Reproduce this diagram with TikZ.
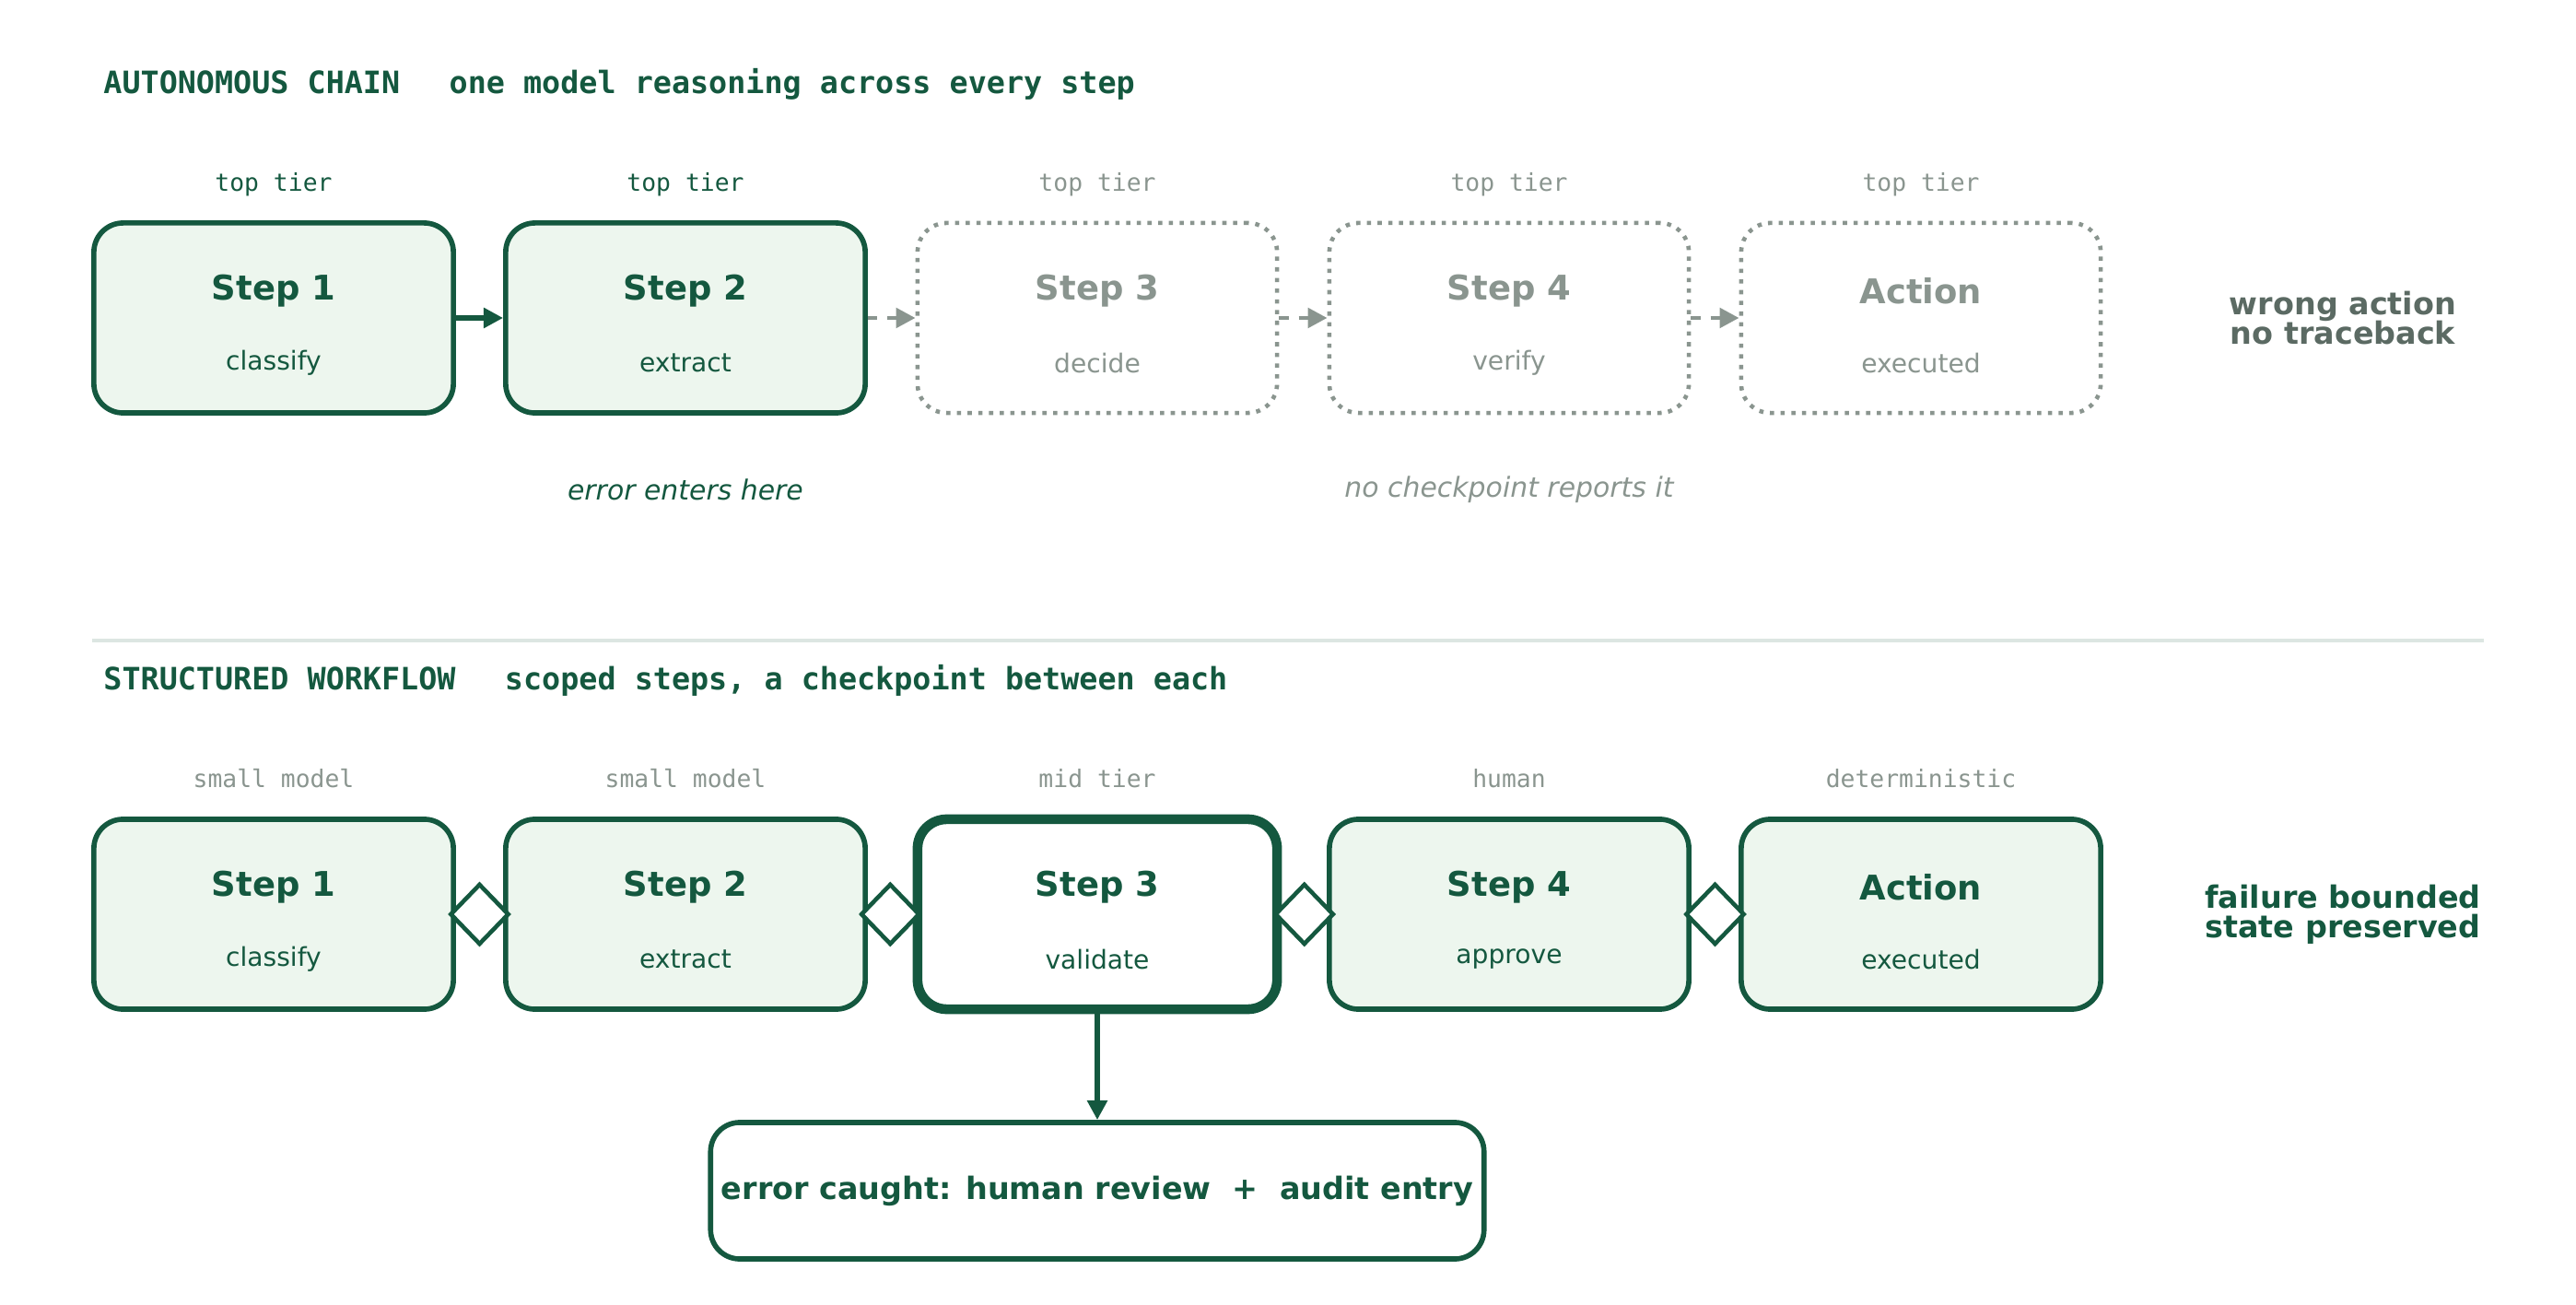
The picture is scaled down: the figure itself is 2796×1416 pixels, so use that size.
\documentclass[tikz,border=0pt]{standalone}
\usepackage{fontspec}
\setmainfont{DejaVu Sans}
\setmonofont{DejaVu Sans Mono}
\usetikzlibrary{positioning,arrows.meta,shapes.geometric}
\definecolor{deep}{HTML}{14583F}
\definecolor{pale}{HTML}{EDF6EE}
\definecolor{mute}{HTML}{8A958F}
\definecolor{slate}{HTML}{5B6A63}
\definecolor{rule}{HTML}{DCE6E2}
\tikzset{
    stepbox/.style={draw=deep, fill=pale, line width=1.6pt, rounded corners=9pt,
        minimum width=3.9cm, minimum height=2.06cm},
    ghostbox/.style={draw=mute, fill=white, line width=1.3pt, dotted, rounded corners=9pt,
        minimum width=3.9cm, minimum height=2.06cm},
    title/.style={font=\ttfamily\bfseries\fontsize{9.5}{11}\selectfont, text=deep, anchor=west},
    tier/.style={font=\ttfamily\fontsize{7.5}{9}\selectfont},
    head/.style={font=\bfseries\fontsize{10.5}{12}\selectfont},
    sub/.style={font=\fontsize{8}{10}\selectfont},
    note/.style={font=\itshape\fontsize{8.5}{10}\selectfont},
    gate/.style={diamond, draw=deep, fill=white, line width=1.3pt, inner sep=0pt,
        minimum width=0.64cm, minimum height=0.66cm},
    link/.style={-{Triangle[length=6pt,width=6pt]}, line width=1.6pt, draw=deep},
    ghostlink/.style={-{Triangle[length=6pt,width=6pt]}, line width=1.4pt, draw=mute, dashed}
}
\begin{document}
\begin{tikzpicture}[x=0.01cm,y=-0.01cm]
		\useasboundingbox (0,0) rectangle (2796,1416);

		% autonomous chain
		\node[title] (t1) at (100,91) {AUTONOMOUS CHAIN\hspace{1.6em}one model reasoning across every step};
		\foreach \i/\h/\s/\st in {1/Step 1/classify/stepbox,2/Step 2/extract/stepbox,3/Step 3/decide/ghostbox,4/Step 4/verify/ghostbox,5/Action/executed/ghostbox}{
			\ifnum\i<3 \def\tc{deep}\else\def\tc{mute}\fi
			\node[\st] (a\i) at ({297+447*(\i-1)},345) {};
			\node[head, text=\tc] (ah\i) at ({297+447*(\i-1)},316) {\h};
			\node[sub, text=\tc] (as\i) at ({297+447*(\i-1)},394) {\s};
			\node[tier, text=\tc] (at\i) at ({297+447*(\i-1)},200) {top tier};
		}
		\draw[link] (a1) -- (a2);
		\draw[ghostlink] (a2) -- (a3);
		\draw[ghostlink] (a3) -- (a4);
		\draw[ghostlink] (a4) -- (a5);
		\node[note, text=deep] (enter) at (744,531) {error enters here};
		\node[note, text=mute] (nocheck) at (1638,531) {no checkpoint reports it};
		\node[font=\bfseries\fontsize{9.5}{11}\selectfont, text=slate, align=center] (wrong) at (2543,345) {wrong action\\[-2pt]no traceback};

		\coordinate (r0) at (100,695);
		\coordinate (r1) at (2696,695);
		\draw[rule, line width=1.3pt] (r0) -- (r1);

		% structured workflow
		\node[title] (t2) at (100,738) {STRUCTURED WORKFLOW\hspace{1.6em}scoped steps, a checkpoint between each};
		\foreach \i/\h/\s/\tr in {1/Step 1/classify/small model,2/Step 2/extract/small model,3/Step 3/validate/mid tier,4/Step 4/approve/human,5/Action/executed/deterministic}{
			\node[stepbox] (b\i) at ({297+447*(\i-1)},992) {};
			\node[head, text=deep] (bh\i) at ({297+447*(\i-1)},963) {\h};
			\node[sub, text=deep] (bs\i) at ({297+447*(\i-1)},1041) {\s};
			\node[tier, text=mute] (bt\i) at ({297+447*(\i-1)},845) {\tr};
		}
		\node[stepbox, fill=white, line width=3pt] (b3) at (1191,992) {};
		\node[head, text=deep] at (1191,963) {Step 3};
		\node[sub, text=deep] at (1191,1041) {validate};
		\foreach \i/\j in {1/2,2/3,3/4,4/5}{
			\path (b\i.east) -- (b\j.west) node[midway, gate] (g\i) {};
		}
		\node[draw=deep, fill=white, line width=1.6pt, rounded corners=9pt, minimum width=8.06cm,
			minimum height=1.48cm, font=\bfseries\fontsize{9.5}{11}\selectfont, text=deep] (caught) at (1191,1292)
			{error caught: human review\ \ +\ \ audit entry};
		\draw[link] (b3) -- (caught);
		\node[font=\bfseries\fontsize{9.5}{11}\selectfont, text=deep, align=center] (bounded) at (2543,992) {failure bounded\\[-2pt]state preserved};
\end{tikzpicture}
\end{document}
